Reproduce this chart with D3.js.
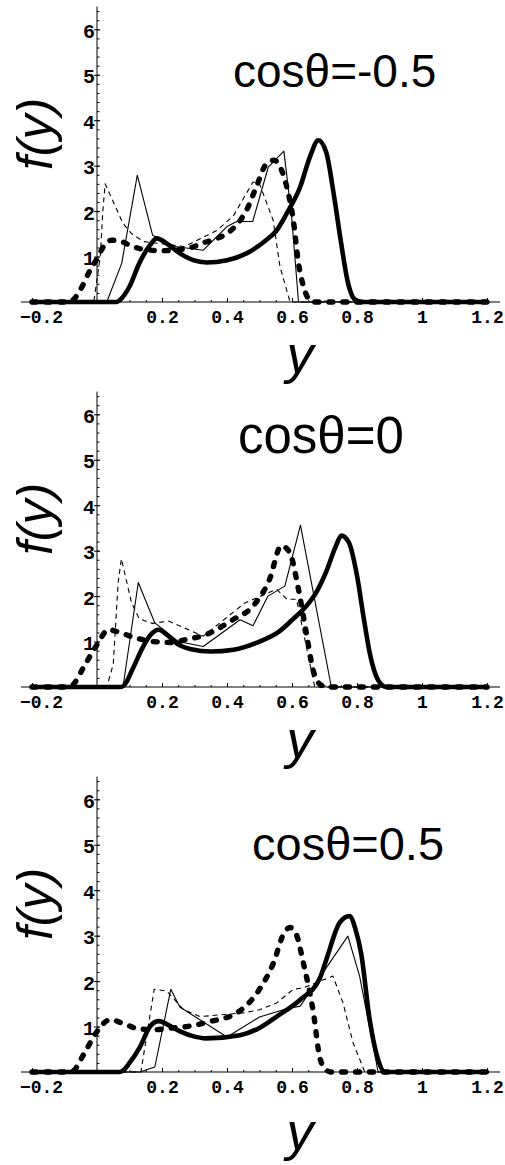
<!DOCTYPE html>
<html>
<head>
<meta charset="utf-8">
<script src="https://cdn.jsdelivr.net/npm/d3@7"></script>
<style>
  body { margin: 0; background: #fff; }
  svg { display: block; }
</style>
</head>
<body>
<svg class="graph"></svg>
<script>
// panel titles and ticks
const panelLabels = ["cosθ=-0.5", "cosθ=0", "cosθ=0.5"];
const xTickVals = [-0.2, 0.2, 0.4, 0.6, 0.8, 1, 1.2];
const yTickVals = [1, 2, 3, 4, 5, 6];

// [y, f(y)], one array per curve and panel
// cosθ = -0.5
const thickSolidA = [[-0.2,0],[0.06,0],[0.07,0.04],[0.1,0.34],[0.13,0.85],[0.163,1.25],[0.184,1.4],[0.214,1.29],[0.255,1.07],[0.296,0.92],[0.337,0.87],[0.4,0.92],[0.46,1.07],[0.52,1.36],[0.55,1.55],[0.584,1.95],[0.625,2.53],[0.655,3.19],[0.681,3.56],[0.705,3.3],[0.73,2.3],[0.75,1.35],[0.773,0.4],[0.79,0.08],[0.81,0],[1.2,0]];
const thickDashA = [[-0.2,0],[-0.09,0],[-0.073,0.05],[-0.045,0.35],[-0.02,0.72],[0,0.95],[0.02,1.22],[0.045,1.36],[0.075,1.33],[0.11,1.22],[0.15,1.15],[0.2,1.13],[0.25,1.15],[0.29,1.2],[0.327,1.3],[0.37,1.4],[0.4,1.51],[0.43,1.7],[0.46,2.02],[0.49,2.53],[0.522,3.05],[0.545,3.12],[0.565,2.95],[0.584,2.53],[0.604,1.8],[0.62,0.85],[0.635,0.35],[0.65,0.08],[0.665,0],[1.2,0]];
const thinSolidA = [[-0.2,0],[0.03,0],[0.076,0.85],[0.124,2.79],[0.171,1.47],[0.24,1.22],[0.327,1.14],[0.4,1.66],[0.43,1.77],[0.479,1.77],[0.527,2.97],[0.575,3.32],[0.599,1.87],[0.62,0],[1.2,0]];
const thinDashA = [[-0.2,0],[-0.01,0],[0.01,1.0],[0.018,2.0],[0.025,2.6],[0.08,1.73],[0.107,1.5],[0.143,1.33],[0.27,1.22],[0.37,1.58],[0.42,1.9],[0.48,2.64],[0.5,2.6],[0.542,1.8],[0.563,0.78],[0.594,0],[1.2,0]];
// cosθ = 0
const thickSolidB = [[-0.2,0],[0.075,0],[0.085,0.05],[0.11,0.4],[0.142,0.89],[0.165,1.15],[0.19,1.26],[0.215,1.15],[0.245,0.96],[0.29,0.83],[0.35,0.78],[0.42,0.82],[0.5,1.0],[0.56,1.22],[0.604,1.5],[0.644,1.78],[0.676,2.1],[0.706,2.55],[0.735,3.1],[0.752,3.33],[0.775,3.18],[0.8,2.45],[0.82,1.55],[0.84,0.72],[0.865,0.15],[0.89,0],[1.2,0]];
const thickDashB = [[-0.2,0],[-0.09,0],[-0.074,0.05],[-0.04,0.45],[0,0.93],[0.035,1.26],[0.07,1.2],[0.11,1.1],[0.172,1.0],[0.234,0.98],[0.276,1.05],[0.327,1.13],[0.418,1.48],[0.48,1.78],[0.531,2.37],[0.567,3.11],[0.593,2.96],[0.618,2.22],[0.644,1.19],[0.665,0.37],[0.69,0.04],[0.71,0],[1.2,0]];
const thinSolidB = [[-0.2,0],[0.08,0],[0.127,2.3],[0.178,1.41],[0.25,1.0],[0.327,0.89],[0.44,1.48],[0.48,1.35],[0.526,2.0],[0.578,2.22],[0.626,3.56],[0.721,0],[1.2,0]];
const thinDashB = [[-0.2,0],[0.03,0],[0.05,0.5],[0.065,2.3],[0.075,2.82],[0.106,1.86],[0.13,1.5],[0.17,1.4],[0.22,1.45],[0.327,1.12],[0.455,1.85],[0.553,2.15],[0.584,1.93],[0.614,1.93],[0.67,0],[1.2,0]];
// cosθ = 0.5
const thickSolidC = [[-0.2,0],[0.07,0],[0.08,0.03],[0.1,0.2],[0.132,0.55],[0.163,1.0],[0.189,1.12],[0.245,0.93],[0.29,0.8],[0.337,0.74],[0.44,0.81],[0.5,0.97],[0.553,1.22],[0.625,1.59],[0.686,2.07],[0.706,2.48],[0.747,3.29],[0.777,3.43],[0.795,3.15],[0.813,2.6],[0.839,1.15],[0.865,0.27],[0.885,0],[1.2,0]];
const thickDashC = [[-0.2,0],[-0.09,0],[-0.073,0.03],[-0.04,0.4],[0,0.89],[0.04,1.15],[0.08,1.07],[0.122,0.96],[0.173,0.93],[0.22,0.96],[0.276,1.0],[0.348,1.11],[0.43,1.3],[0.5,1.82],[0.543,2.4],[0.575,3.05],[0.594,3.18],[0.612,3.05],[0.635,2.4],[0.666,1.3],[0.686,0.3],[0.705,0.05],[0.72,0],[1.2,0]];
const thinSolidC = [[-0.2,0],[0.132,0],[0.178,0.11],[0.227,1.82],[0.255,1.43],[0.4,0.77],[0.5,1.21],[0.584,1.39],[0.625,1.45],[0.772,2.99],[0.808,2.11],[0.865,0],[1.2,0]];
const thinDashC = [[-0.2,0],[0.135,0],[0.176,1.82],[0.215,1.78],[0.266,1.37],[0.317,1.22],[0.45,1.3],[0.5,1.37],[0.553,1.52],[0.604,1.82],[0.634,1.85],[0.726,2.11],[0.757,1.52],[0.788,0.64],[0.824,0],[1.2,0]];

const curves = [
    [thinSolidA, thinDashA, thickSolidA, thickDashA],
    [thinSolidB, thinDashB, thickSolidB, thickDashB],
    [thinSolidC, thinDashC, thickSolidC, thickDashC]
];

// line styles, same order as in curves
const styles = [
    { width: 1.1, dash: null, cap: 'butt', curve: d3.curveLinear },
    { width: 1.1, dash: '5,4', cap: 'butt', curve: d3.curveLinear },
    { width: 4.6, dash: null, cap: 'round', curve: d3.curveMonotoneX },
    { width: 5.4, dash: '4,10', cap: 'round', curve: d3.curveMonotoneX }
];

// per panel placement
const layout = [
    { top: 0,   titleX: 233, titleDy: -215, titleSize: 46, yLabDy: 71 },
    { top: 385, titleX: 238, titleDy: -234, titleSize: 51, yLabDy: 71 },
    { top: 770, titleX: 252, titleDy: -212, titleSize: 47, yLabDy: 78 }
];

const W = 505, H = 1165;
const svg = d3.select('svg.graph').attr('width', W).attr('height', H);
svg.append('rect').attr('width', W).attr('height', H).attr('fill', '#fff');

const x = d3.scaleLinear().domain([-0.2, 1.2]).range([32, 487]);
const y = d3.scaleLinear().domain([0, 6.5]).range([302, 6.6]);

const tickFont = '"Liberation Mono", "DejaVu Sans Mono", monospace';
const textFont = '"Liberation Sans", Arial, sans-serif';

panelLabels.forEach((label, i) => {
    const L = layout[i];
    const g = svg.append('g').attr('transform', `translate(0, ${L.top})`);

    // axis lines
    g.append('line')
        .attr('x1', x(-0.234)).attr('x2', x(1.24))
        .attr('y1', y(0)).attr('y2', y(0))
        .attr('stroke', '#000').attr('stroke-width', 1.2);
    g.append('line')
        .attr('x1', x(0)).attr('x2', x(0))
        .attr('y1', y(0)).attr('y2', y(6.5))
        .attr('stroke', '#000').attr('stroke-width', 1);

    // minor ticks
    const xMinor = d3.range(-0.2, 1.2001, 0.05);
    g.append('g').attr('transform', `translate(0, ${y(0)})`)
        .call(d3.axisBottom(x).tickValues(xMinor).tickSize(-2).tickFormat(''))
        .call(a => a.select('.domain').remove());
    const yMinor = d3.range(0.2, 6.5, 0.2);
    g.append('g').attr('transform', `translate(${x(0)}, 0)`)
        .call(d3.axisLeft(y).tickValues(yMinor).tickSize(-2.5).tickFormat(''))
        .call(a => a.select('.domain').remove());

    // x axis labels + major ticks
    const xAx = g.append('g').attr('transform', `translate(0, ${y(0)})`)
        .call(d3.axisBottom(x).tickValues(xTickVals).tickSize(-4).tickPadding(8)
            .tickFormat(d => d3.format('.1~f')(d)));
    xAx.select('.domain').remove();
    xAx.selectAll('text')
        .attr('font-family', tickFont).attr('font-weight', 'bold')
        .attr('font-size', 18).attr('fill', '#000')
        .attr('dx', d => d === -0.2 ? 9 : 0);

    // y axis labels + major ticks
    const yAx = g.append('g').attr('transform', `translate(${x(0)}, 0)`)
        .call(d3.axisLeft(y).tickValues(yTickVals).tickSize(3).tickPadding(-1)
            .tickFormat(d3.format('d')));
    yAx.select('.domain').remove();
    yAx.selectAll('.tick line').attr('x2', -3).attr('x1', 3);
    yAx.selectAll('text')
        .attr('font-family', tickFont).attr('font-weight', 'bold')
        .attr('font-size', 20).attr('fill', '#000')
        .attr('dy', '0.4em');

    // curves
    curves[i].forEach((pts, k) => {
        const s = styles[k];
        const line = d3.line().x(d => x(d[0])).y(d => y(d[1])).curve(s.curve);
        g.append('path')
            .datum(pts)
            .attr('d', line)
            .attr('fill', 'none')
            .attr('stroke', '#000')
            .attr('stroke-width', s.width)
            .attr('stroke-linecap', s.cap)
            .attr('stroke-linejoin', 'round')
            .attr('stroke-dasharray', s.dash);
    });

    // title
    g.append('text')
        .attr('x', L.titleX).attr('y', y(0) + L.titleDy)
        .attr('font-family', textFont).attr('font-size', L.titleSize)
        .attr('fill', '#000')
        .text(label);

    // axis titles
    g.append('text')
        .attr('transform', `translate(52, ${y(0) - 168}) rotate(-90)`)
        .attr('text-anchor', 'middle')
        .attr('font-family', textFont).attr('font-style', 'italic')
        .attr('font-size', 50).attr('fill', '#000')
        .text('f(y)');
    g.append('text')
        .attr('x', 300).attr('y', y(0) + L.yLabDy)
        .attr('text-anchor', 'middle')
        .attr('font-family', textFont).attr('font-style', 'italic')
        .attr('font-size', 54).attr('fill', '#000')
        .text('y');
});
</script>
</body>
</html>
